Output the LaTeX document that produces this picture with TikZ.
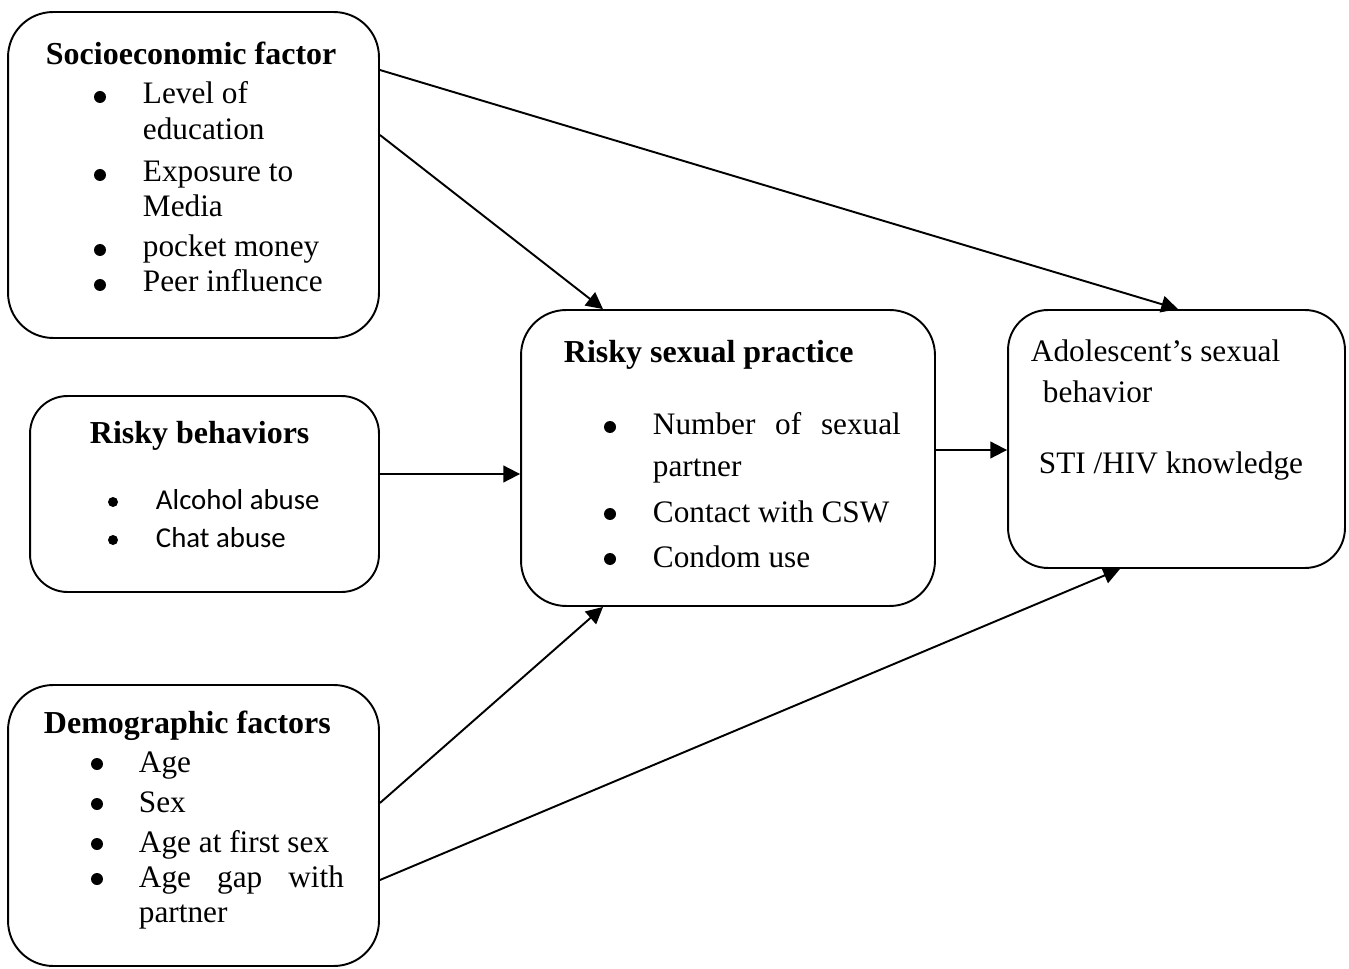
\documentclass[tikz,border=0pt]{standalone}
\usepackage{fontspec}
\setmainfont{Liberation Serif}
\newfontfamily\calibrifont{Carlito}
\usetikzlibrary{arrows.meta}

\begin{document}
\begin{tikzpicture}[x=0.02cm, y=-0.02cm, >={Triangle[length=9.5pt,width=9.5pt]}, line width=1.1pt,
    box/.style={draw, rectangle, rounded corners=0.9cm, line width=1.1pt, inner sep=0pt},
    txt/.style={anchor=base west, inner sep=0pt, font=\fontsize{17.8}{20}\selectfont},
    hd/.style={txt, font=\fontsize{18.2}{20}\selectfont\bfseries},
    dot/.style={circle, fill, draw=none, inner sep=0pt, minimum size=0.24cm}]
    \useasboundingbox (0,0) rectangle (1349,969);

    % Boxes {soc, beh, dem, prac, ado}
    \node [box, minimum width=7.42cm, minimum height=6.52cm] (soc) at (193.5,175) {};
    \node [box, rounded corners=0.75cm, minimum width=6.98cm, minimum height=3.92cm] (beh) at (204.5,494) {};
    \node [box, minimum width=7.42cm, minimum height=5.62cm] (dem) at (193.5,825.5) {};
    \node [box, minimum width=8.28cm, minimum height=5.92cm] (prac) at (728,458) {};
    \node [box, rounded corners=0.8cm, minimum width=6.74cm, minimum height=5.16cm] (ado) at (1176.5,439) {};

    % Socioeconomic factor
    \node [hd]  (socT) at (45,65)   {Socioeconomic factor};
    \node [dot] (socD1) at (100,97) {};
    \node [txt] (soc1a) at (142,104) {Level of};
    \node [txt] (soc1b) at (142,140) {education};
    \node [dot] (socD2) at (100,175) {};
    \node [txt] (soc2a) at (142,182) {Exposure to};
    \node [txt] (soc2b) at (142,217) {Media};
    \node [dot] (socD3) at (100,250) {};
    \node [txt] (soc3) at (142,257) {pocket money};
    \node [dot] (socD4) at (100,285) {};
    \node [txt] (soc4) at (142,292) {Peer influence};

    % Risky behaviors
    \node [hd]  (behT) at (89,443) {Risky behaviors};
    \node [dot, minimum size=0.2cm] (behD1) at (113,502) {};
    \node [txt, font=\calibrifont\fontsize{16.4}{20}\selectfont] (beh1) at (155,509) {Alcohol abuse};
    \node [dot, minimum size=0.2cm] (behD2) at (113,540) {};
    \node [txt, font=\calibrifont\fontsize{16.4}{20}\selectfont] (beh2) at (155,547) {Chat abuse};

    % Demographic factors
    \node [hd]  (demT) at (43,733) {Demographic factors};
    \node [dot] (demD1) at (97,764) {};
    \node [txt] (dem1) at (138,772) {Age};
    \node [dot] (demD2) at (97,804) {};
    \node [txt] (dem2) at (138,812) {Sex};
    \node [dot] (demD3) at (97,844) {};
    \node [txt] (dem3) at (138,852) {Age at first sex};
    \node [dot] (demD4) at (97,879) {};
    \node [txt] (dem4a) at (138,887) {\makebox[4.1cm][s]{Age gap with}};
    \node [txt] (dem4b) at (138,922) {partner};

    % Risky sexual practice
    \node [hd]  (pracT) at (563,363) {Risky sexual practice};
    \node [dot] (pracD1) at (610,427) {};
    \node [txt] (prac1a) at (652,435) {\makebox[4.96cm][s]{Number of sexual}};
    \node [txt] (prac1b) at (652,477) {partner};
    \node [dot] (pracD2) at (610,514) {};
    \node [txt] (prac2) at (652,522) {Contact with CSW};
    \node [dot] (pracD3) at (610,559) {};
    \node [txt] (prac3) at (652,567) {Condom use};

    % Adolescent's sexual behavior
    \node [txt] (adoT1) at (1030,362) {Adolescent’s sexual};
    \node [txt] (adoT2) at (1042,402) {behavior};
    \node [txt] (adoK) at (1038,473) {STI /HIV knowledge};

    % Paths
    \draw [->] (soc.east |- 0,70)   -- (ado.north -| 1178,0);
    \draw [->] (soc.east |- 0,135)  -- (prac.north -| 603,0);
    \draw [->] (beh.east |- 0,474)  -- (prac.west |- 0,474);
    \draw [->] (dem.east |- 0,803)  -- (prac.south -| 603,0);
    \draw [->] (dem.east |- 0,880)  -- (ado.south -| 1120,0);
    \draw [->] (prac.east |- 0,450) -- (ado.west |- 0,450);
\end{tikzpicture}
\end{document}
